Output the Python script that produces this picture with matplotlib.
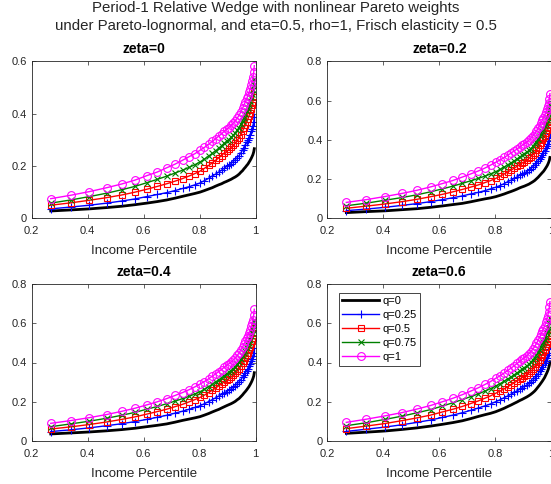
import matplotlib
matplotlib.use("Agg")
import matplotlib.pyplot as plt

plt.rcParams['font.family'] = ['Liberation Sans', 'DejaVu Sans']

# Income percentile grid (shared by all series)
pct = [0.268, 0.339, 0.406, 0.468, 0.521, 0.569, 0.611, 0.649, 0.682, 0.712, 0.739,
       0.763, 0.783, 0.801, 0.817, 0.832, 0.845, 0.857, 0.868, 0.878, 0.887, 0.896,
       0.904, 0.912, 0.920, 0.927, 0.934, 0.941, 0.947, 0.953, 0.958, 0.963, 0.968,
       0.972, 0.976, 0.980, 0.984, 0.987, 0.990, 0.993, 0.995]

# zeta = 0
z0_q0 = [.028, .032, .036, .041, .046, .052, .058, .064, .070, .077, .084, .090, .095, .100,
         .106, .112, .117, .123, .128, .132, .137, .141, .145, .149, .154, .158, .163, .169,
         .176, .182, .189, .195, .202, .207, .214, .221, .229, .236, .243, .254, .266]
z0_q25 = [.036, .043, .050, .058, .066, .074, .083, .091, .098, .106, .114, .121, .128, .135,
          .144, .153, .162, .169, .177, .184, .191, .198, .203, .209, .217, .224, .232, .240,
          .250, .261, .270, .280, .290, .299, .308, .319, .332, .342, .354, .369, .388]
z0_q50 = [.050, .059, .069, .079, .089, .100, .111, .122, .132, .142, .152, .162, .171, .180,
          .191, .202, .212, .222, .231, .240, .249, .256, .263, .271, .279, .288, .298, .308,
          .320, .333, .345, .357, .369, .379, .391, .404, .419, .432, .446, .465, .488]
z0_q75 = [.058, .070, .083, .096, .109, .122, .136, .149, .161, .173, .184, .195, .205, .215,
          .226, .238, .248, .258, .268, .277, .286, .294, .301, .309, .317, .326, .337, .347,
          .360, .373, .385, .397, .410, .421, .433, .447, .462, .475, .490, .510, .533]
z0_q100 = [.075, .088, .102, .117, .131, .146, .163, .177, .193, .207, .222, .236, .247, .260,
           .271, .283, .294, .304, .314, .323, .332, .340, .347, .355, .364, .373, .383, .394,
           .407, .420, .433, .445, .458, .469, .481, .495, .511, .524, .539, .559, .583]

# zeta = 0.2
z2_q0 = [.029, .034, .038, .044, .049, .056, .063, .070, .076, .084, .092, .099, .104, .110,
         .117, .124, .131, .137, .143, .149, .155, .160, .164, .169, .174, .180, .186, .193,
         .201, .209, .217, .225, .233, .239, .247, .256, .265, .273, .283, .295, .310]
z2_q25 = [.039, .047, .056, .066, .075, .085, .095, .105, .114, .124, .132, .141, .150, .158,
          .167, .177, .187, .195, .203, .211, .219, .226, .231, .238, .246, .253, .262, .271,
          .282, .293, .304, .314, .325, .334, .344, .356, .369, .380, .393, .410, .430]
z2_q50 = [.051, .062, .073, .085, .097, .110, .122, .135, .147, .159, .170, .182, .192, .203,
          .214, .226, .236, .246, .256, .265, .274, .282, .289, .296, .305, .314, .324, .335,
          .348, .360, .373, .385, .397, .408, .420, .434, .449, .462, .477, .497, .520]
z2_q75 = [.064, .077, .092, .106, .120, .135, .150, .164, .178, .191, .203, .215, .226, .237,
          .249, .261, .273, .283, .293, .303, .312, .321, .328, .336, .346, .355, .366, .378,
          .391, .405, .418, .431, .444, .456, .468, .483, .500, .513, .529, .550, .575]
z2_q100 = [.081, .095, .111, .127, .143, .160, .177, .193, .210, .226, .241, .256, .271, .285,
           .297, .310, .322, .333, .344, .353, .363, .372, .380, .388, .398, .408, .419, .431,
           .445, .459, .472, .486, .500, .512, .524, .540, .557, .571, .587, .609, .635]

# zeta = 0.4
z4_q0 = [.036, .041, .046, .052, .058, .065, .073, .080, .087, .096, .105, .112, .118, .124,
         .132, .140, .148, .155, .161, .168, .174, .180, .185, .190, .196, .202, .210, .217,
         .226, .235, .244, .252, .261, .269, .277, .287, .298, .307, .318, .331, .348]
z4_q25 = [.048, .057, .067, .078, .088, .099, .110, .121, .131, .142, .152, .162, .171, .180,
          .190, .201, .211, .220, .229, .237, .245, .252, .259, .266, .274, .282, .292, .302,
          .313, .325, .336, .347, .359, .369, .380, .393, .407, .419, .432, .450, .472]
z4_q50 = [.061, .072, .084, .097, .110, .123, .137, .150, .162, .175, .187, .200, .211, .222,
          .234, .247, .259, .270, .281, .291, .301, .309, .317, .326, .335, .345, .357, .368,
          .383, .397, .410, .424, .438, .450, .463, .478, .496, .510, .526, .548, .574]
z4_q75 = [.073, .087, .101, .116, .131, .146, .162, .176, .190, .203, .216, .228, .240, .251,
          .263, .277, .289, .301, .312, .322, .333, .342, .350, .359, .369, .379, .391, .403,
          .418, .433, .447, .461, .475, .488, .501, .517, .535, .550, .567, .590, .617]
z4_q100 = [.090, .104, .119, .135, .151, .167, .184, .200, .216, .232, .247, .262, .276, .290,
           .303, .317, .330, .342, .354, .364, .375, .385, .393, .402, .413, .423, .436, .449,
           .464, .479, .494, .508, .524, .537, .551, .567, .586, .601, .619, .643, .671]

# zeta = 0.6
z6_q0 = [.039, .045, .051, .059, .067, .076, .085, .094, .103, .114, .125, .134, .141, .149,
         .158, .167, .176, .184, .192, .199, .206, .212, .218, .224, .231, .238, .246, .255,
         .265, .276, .285, .295, .305, .314, .323, .335, .347, .357, .369, .385, .404]
z6_q25 = [.049, .060, .071, .083, .095, .107, .120, .132, .144, .156, .168, .179, .189, .200,
          .210, .221, .230, .239, .248, .256, .264, .272, .278, .285, .293, .301, .310, .320,
          .332, .343, .355, .366, .377, .387, .398, .410, .425, .436, .450, .468, .489]
z6_q50 = [.063, .076, .089, .104, .118, .132, .148, .162, .176, .191, .204, .218, .230, .243,
          .254, .266, .277, .287, .297, .306, .315, .323, .330, .338, .347, .356, .366, .377,
          .390, .403, .415, .428, .440, .451, .463, .477, .493, .506, .521, .541, .565]
z6_q75 = [.078, .093, .110, .127, .144, .160, .178, .195, .211, .226, .240, .254, .267, .280,
          .292, .305, .316, .327, .338, .347, .357, .366, .373, .381, .391, .401, .412, .424,
          .437, .451, .465, .478, .492, .503, .516, .531, .548, .562, .578, .600, .625]
z6_q100 = [.095, .111, .128, .145, .163, .181, .200, .218, .236, .254, .271, .288, .303, .319,
           .332, .347, .360, .372, .384, .395, .406, .416, .425, .434, .445, .456, .468, .482,
           .497, .513, .528, .543, .559, .572, .586, .604, .623, .638, .657, .681, .710]

panel_titles = ['zeta=0', 'zeta=0.2', 'zeta=0.4', 'zeta=0.6']
series_labels = ['q=0', 'q=0.25', 'q=0.5', 'q=0.75', 'q=1']
x_ticks = [0.2, 0.4, 0.6, 0.8, 1.0]
x_ticklabels = ['0.2', '0.4', '0.6', '0.8', '1']
y_ticks_small = [0, 0.2, 0.4, 0.6]
y_ticklabels_small = ['0', '0.2', '0.4', '0.6']
y_ticks_big = [0, 0.2, 0.4, 0.6, 0.8]
y_ticklabels_big = ['0', '0.2', '0.4', '0.6', '0.8']

panels = [
    [z0_q0, z0_q25, z0_q50, z0_q75, z0_q100],
    [z2_q0, z2_q25, z2_q50, z2_q75, z2_q100],
    [z4_q0, z4_q25, z4_q50, z4_q75, z4_q100],
    [z6_q0, z6_q25, z6_q50, z6_q75, z6_q100],
]

colors = ['black', (0, 0, 1), (1, 0, 0), (0, 0.5, 0), (1, 0, 1)]
markers = [None, '+', 's', 'x', 'o']
msizes = [0, 5.2, 3.8, 4.0, 5.6]
lwidths = [2.0, 1.0, 1.0, 1.0, 1.0]

W, H = 551, 484
fig = plt.figure(figsize=(W / 100, H / 100), dpi=100)

axw = 224 / W
axh = 157 / H
lefts = [31.7 / W, 327.3 / W]
bottoms = [(H - 218.3) / H, (H - 441) / H]
positions = [(lefts[0], bottoms[0]), (lefts[1], bottoms[0]),
             (lefts[0], bottoms[1]), (lefts[1], bottoms[1])]

gray = '#262626'
for i, (pos, data) in enumerate(zip(positions, panels)):
    ax = fig.add_axes([pos[0], pos[1], axw, axh])
    for j, y in enumerate(data):
        kw = dict(color=colors[j], lw=lwidths[j], label=series_labels[j])
        if markers[j] is not None:
            kw.update(marker=markers[j], ms=msizes[j], mfc='none', mew=0.8,
                      mec=colors[j])
        ax.plot(pct, y, **kw)
    ax.set_xlim(0.2, 1.0)
    if i == 0:
        ax.set_ylim(0, 0.6)
        ax.set_yticks(y_ticks_small)
        ax.set_yticklabels(y_ticklabels_small)
    else:
        ax.set_ylim(0, 0.8)
        ax.set_yticks(y_ticks_big)
        ax.set_yticklabels(y_ticklabels_big)
    ax.set_xticks(x_ticks)
    ax.set_xticklabels(x_ticklabels)
    ax.tick_params(direction='in', length=3, width=0.5, top=True, right=True,
                   labelsize=8, colors=gray, pad=3.5)
    ax.tick_params(axis='x', pad=5.5)
    for s in ax.spines.values():
        s.set_linewidth(0.6)
        s.set_color(gray)
    ax.set_xlabel('Income Percentile', fontsize=9.5, color=gray, labelpad=6.5)
    ax.set_title(panel_titles[i], fontsize=10, fontweight='bold', pad=6)
    if i == 3:
        leg = ax.legend(loc='upper left', bbox_to_anchor=(0.052, 0.943),
                        borderaxespad=0, fontsize=8, handlelength=3.3,
                        handletextpad=0.3, labelspacing=0.36, borderpad=0.3,
                        fancybox=False, framealpha=1, edgecolor=gray)
        leg.get_frame().set_linewidth(0.6)

fig.text(0.5, 1 - 11.7 / H, 'Period-1 Relative Wedge with nonlinear Pareto weights',
         ha='center', va='baseline', fontsize=10.8, color=gray)
fig.text(0.5, 1 - 30 / H,
         'under Pareto-lognormal, and eta=0.5, rho=1, Frisch elasticity = 0.5',
         ha='center', va='baseline', fontsize=10.8, color=gray)

fig.savefig('out.png', dpi=100)
